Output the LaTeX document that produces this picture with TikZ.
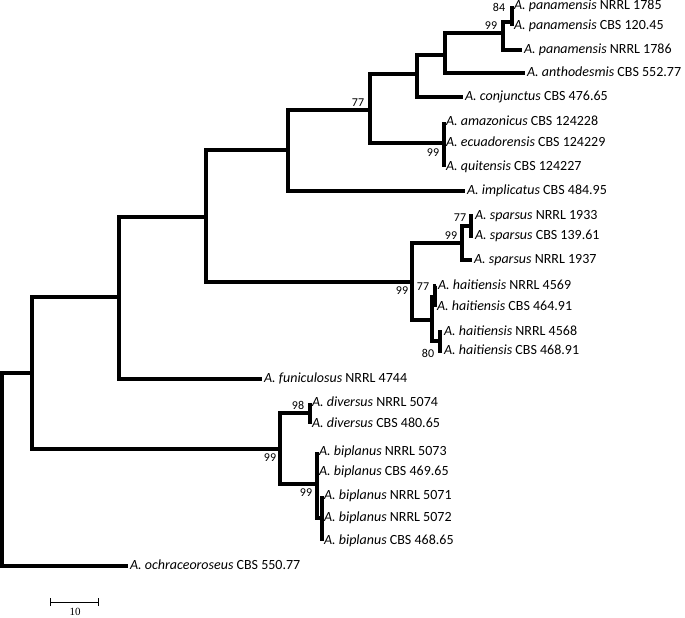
\documentclass[tikz,border=0pt]{standalone}
\usepackage{fontspec}
\setmainfont{Carlito}
\newfontfamily\barfont{Liberation Serif}
\begin{document}
\begin{tikzpicture}[x=1pt, y=-1pt]
  \tikzset{branch/.style={line width=3.1pt},
    taxon/.style={anchor=west, inner sep=1.8pt, text height=0.64em, text depth=0pt,
      font=\fontsize{14}{16}\selectfont},
    boot/.style={inner sep=0pt, font=\fontsize{12}{14}\selectfont}}
  \useasboundingbox (0,0) rectangle (685,618);

  % Internal nodes
  \coordinate (root) at (2,470);
  \coordinate (nA) at (32,373);
  \coordinate (nB) at (119,297);
  \coordinate (nC) at (206,217);
  \coordinate (nD) at (288,150);
  \coordinate (nE) at (370,110);
  \coordinate (nF) at (417,74);
  \coordinate (nG) at (445,55);
  \coordinate (nH) at (503,33);
  \coordinate (nI) at (512,22);
  \coordinate (nJ) at (444,143);
  \coordinate (nK) at (412,282);
  \coordinate (nL) at (462,243);
  \coordinate (nM) at (471,226);
  \coordinate (nN) at (432,320);
  \coordinate (nO) at (435,297);
  \coordinate (nP) at (440,341);
  \coordinate (nQ) at (280,449);
  \coordinate (nR) at (310,413);
  \coordinate (nS) at (317,484);
  \coordinate (nT) at (322,518);

  % Taxa
  \node[taxon] (pan1) at (512,6) {\textit{A. panamensis} NRRL 1785};
  \node[taxon] (pan2) at (512,26) {\textit{A. panamensis} CBS 120.45};
  \node[taxon] (pan3) at (522,50) {\textit{A. panamensis} NRRL 1786};
  \node[taxon] (anth) at (525,73) {\textit{A. anthodesmis} CBS 552.77};
  \node[taxon] (conj) at (463,97) {\textit{A. conjunctus} CBS 476.65};
  \node[taxon] (amaz) at (444,122) {\textit{A. amazonicus} CBS 124228};
  \node[taxon] (ecua) at (444,143) {\textit{A. ecuadorensis} CBS 124229};
  \node[taxon] (quit) at (444,167) {\textit{A. quitensis} CBS 124227};
  \node[taxon] (impl) at (465,191) {\textit{A. implicatus} CBS 484.95};
  \node[taxon] (spa1) at (473,216) {\textit{A. sparsus} NRRL 1933};
  \node[taxon] (spa2) at (473,236) {\textit{A. sparsus} CBS 139.61};
  \node[taxon] (spa3) at (472,260) {\textit{A. sparsus} NRRL 1937};
  \node[taxon] (hai1) at (436,286) {\textit{A. haitiensis} NRRL 4569};
  \node[taxon] (hai2) at (435,307) {\textit{A. haitiensis} CBS 464.91};
  \node[taxon] (hai3) at (442,332) {\textit{A. haitiensis} NRRL 4568};
  \node[taxon] (hai4) at (442,351) {\textit{A. haitiensis} CBS 468.91};
  \node[taxon] (funi) at (262,379) {\textit{A. funiculosus} NRRL 4744};
  \node[taxon] (div1) at (310,403) {\textit{A. diversus} NRRL 5074};
  \node[taxon] (div2) at (310,424) {\textit{A. diversus} CBS 480.65};
  \node[taxon] (bip1) at (317,452) {\textit{A. biplanus} NRRL 5073};
  \node[taxon] (bip2) at (317,472) {\textit{A. biplanus} CBS 469.65};
  \node[taxon] (bip3) at (322,496) {\textit{A. biplanus} NRRL 5071};
  \node[taxon] (bip4) at (322,518) {\textit{A. biplanus} NRRL 5072};
  \node[taxon] (bip5) at (322,541) {\textit{A. biplanus} CBS 468.65};
  \node[taxon] (ochr) at (128,566) {\textit{A. ochraceoroseus} CBS 550.77};

  % Branches
  \draw[branch] (root) |- (nA) (root) |- (ochr.west);
  \draw[branch] (nA) |- (nB) (nA) |- (nQ);
  \draw[branch] (nB) |- (nC) (nB) |- (funi.west);
  \draw[branch] (nC) |- (nD) (nC) |- (nK);
  \draw[branch] (nD) |- (nE) (nD) |- (impl.west);
  \draw[branch] (nE) |- (nF) (nE) |- (nJ);
  \draw[branch] (nF) |- (nG) (nF) |- (conj.west);
  \draw[branch] (nG) |- (nH) (nG) |- (anth.west);
  \draw[branch] (nH) |- (nI) (nH) |- (pan3.west);
  \draw[branch] (nI) |- (pan1.west) (nI) |- (pan2.west);
  \draw[branch] (nJ) |- (amaz.west) (nJ) |- (quit.west);
  \draw[branch] (nK) |- (nL) (nK) |- (nN);
  \draw[branch] (nL) |- (nM) (nL) |- (spa3.west);
  \draw[branch] (nM) |- (spa1.west) (nM) |- (spa2.west);
  \draw[branch] (nN) |- (nO) (nN) |- (nP);
  \draw[branch] (nO) |- (hai1.west) (nO) |- (hai2.west);
  \draw[branch] (nP) |- (hai3.west) (nP) |- (hai4.west);
  \draw[branch] (nQ) |- (nR) (nQ) |- (nS);
  \draw[branch] (nR) |- (div1.west) (nR) |- (div2.west);
  \draw[branch] (nS) |- (bip1.west) (nS) |- (bip2.west) (nS) |- (nT);
  \draw[branch] (nT) |- (bip3.west) (nT) |- (bip5.west);

  % Bootstrap values
  \node[boot] (b84) at (499,7) {84};
  \node[boot] (b99a) at (491,26) {99};
  \node[boot] (b77a) at (358,103) {77};
  \node[boot] (b99b) at (433,153) {99};
  \node[boot] (b77b) at (460,218) {77};
  \node[boot] (b99c) at (451,236) {99};
  \node[boot] (b99d) at (402,291) {99};
  \node[boot] (b77c) at (423,287) {77};
  \node[boot] (b80) at (428,353) {80};
  \node[boot] (b98) at (298,405) {98};
  \node[boot] (b99e) at (270,458) {99};
  \node[boot] (b99f) at (306,493) {99};

  % Scale bar
  \coordinate (sb1) at (50,602);
  \coordinate (sb2) at (98,602);
  \draw[line width=0.9pt] (sb1) -- (sb2);
  \draw[line width=0.9pt] ([yshift=-4pt]sb1) -- ([yshift=4pt]sb1);
  \draw[line width=0.9pt] ([yshift=-4pt]sb2) -- ([yshift=4pt]sb2);
  \node[inner sep=0pt, font=\barfont\fontsize{11}{13}\selectfont] (sblabel) at (75,612) {10};
\end{tikzpicture}
\end{document}
